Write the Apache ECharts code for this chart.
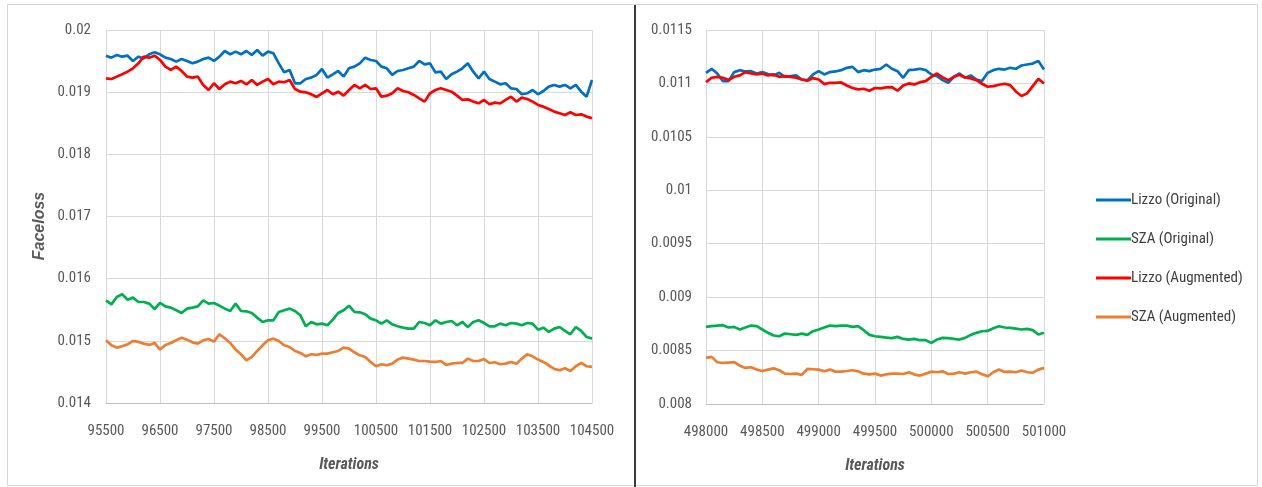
<!DOCTYPE html>
<html>
<head>
<meta charset="utf-8">
<script src="https://cdn.jsdelivr.net/npm/echarts@6/dist/echarts.min.js"></script>
<style>
  html, body { margin: 0; padding: 0; background: #ffffff; }
  #chart { width: 1262px; height: 487px; }
</style>
</head>
<body>
<div id="chart"></div>
<script>
// Iteration steps for the two training windows
const leftIters = [];
for (let i = 0; i <= 90; i++) leftIters.push(95500 + 100 * i);
const rightIters = [];
for (let i = 0; i <= 60; i++) rightIters.push(498000 + 50 * i);

const seriesNames = ['Lizzo (Original)', 'SZA (Original)', 'Lizzo (Augmented)', 'SZA (Augmented)'];

// Face loss, early window (95500 - 104500)
const lizzoOrigLeft = [
  0.019587, 0.019555, 0.019598, 0.019571, 0.019587, 0.019502, 0.019571, 0.019544, 0.019609, 0.019641,
  0.019609, 0.019555, 0.019534, 0.019491, 0.019534, 0.019502, 0.019464, 0.019491, 0.019534, 0.019555,
  0.019502, 0.019571, 0.019662, 0.019609, 0.019652, 0.019609, 0.019662, 0.019598, 0.019678, 0.019587,
  0.019652, 0.019625, 0.019464, 0.019319, 0.019357, 0.019143, 0.019143, 0.019212, 0.019234, 0.019277,
  0.019373, 0.019234, 0.019287, 0.019341, 0.019250, 0.019384, 0.019411, 0.019464, 0.019555, 0.019518,
  0.019502, 0.019411, 0.019384, 0.019277, 0.019341, 0.019357, 0.019384, 0.019411, 0.019502, 0.019448,
  0.019464, 0.019319, 0.019330, 0.019212, 0.019287, 0.019330, 0.019384, 0.019464, 0.019330, 0.019223,
  0.019330, 0.019212, 0.019169, 0.019126, 0.019143, 0.019062, 0.019051, 0.018966, 0.018982, 0.019035,
  0.018966, 0.019019, 0.019089, 0.019116, 0.019089, 0.019116, 0.019062, 0.019116, 0.019008, 0.018928,
  0.019196
];
const szaOrigLeft = [
  0.015652, 0.015587, 0.015705, 0.015748, 0.015662, 0.015695, 0.015625, 0.015625, 0.015598, 0.015512,
  0.015609, 0.015555, 0.015534, 0.015491, 0.015448, 0.015518, 0.015534, 0.015555, 0.015652, 0.015598,
  0.015609, 0.015566, 0.015518, 0.015480, 0.015598, 0.015480, 0.015475, 0.015448, 0.015373, 0.015303,
  0.015330, 0.015330, 0.015464, 0.015491, 0.015518, 0.015480, 0.015411, 0.015234, 0.015303, 0.015266,
  0.015277, 0.015250, 0.015341, 0.015448, 0.015491, 0.015566, 0.015464, 0.015459, 0.015427, 0.015357,
  0.015330, 0.015277, 0.015330, 0.015266, 0.015234, 0.015212, 0.015196, 0.015196, 0.015303, 0.015287,
  0.015250, 0.015330, 0.015277, 0.015303, 0.015319, 0.015250, 0.015303, 0.015223, 0.015303, 0.015330,
  0.015287, 0.015234, 0.015234, 0.015277, 0.015250, 0.015287, 0.015277, 0.015250, 0.015287, 0.015277,
  0.015180, 0.015212, 0.015143, 0.015196, 0.015223, 0.015159, 0.015105, 0.015223, 0.015159, 0.015062,
  0.015035
];
const lizzoAugLeft = [
  0.019223, 0.019212, 0.019250, 0.019287, 0.019330, 0.019384, 0.019464, 0.019571, 0.019555, 0.019587,
  0.019518, 0.019411, 0.019357, 0.019411, 0.019341, 0.019250, 0.019234, 0.019250, 0.019116, 0.019035,
  0.019143, 0.019051, 0.019126, 0.019169, 0.019143, 0.019180, 0.019126, 0.019196, 0.019116, 0.019169,
  0.019212, 0.019126, 0.019169, 0.019159, 0.019196, 0.019051, 0.019008, 0.018998, 0.018966, 0.018923,
  0.018982, 0.019035, 0.018966, 0.019008, 0.018944, 0.019035, 0.019116, 0.019062, 0.019116, 0.019051,
  0.019062, 0.018928, 0.018944, 0.018982, 0.019062, 0.019019, 0.018998, 0.018955, 0.018901, 0.018848,
  0.018982, 0.019035, 0.019062, 0.019035, 0.019008, 0.018944, 0.018875, 0.018885, 0.018848, 0.018821,
  0.018875, 0.018805, 0.018832, 0.018821, 0.018875, 0.018928, 0.018848, 0.018912, 0.018891, 0.018848,
  0.018794, 0.018767, 0.018730, 0.018687, 0.018660, 0.018633, 0.018676, 0.018633, 0.018644, 0.018607,
  0.018580
];
const szaAugLeft = [
  0.015009, 0.014928, 0.014891, 0.014912, 0.014944, 0.014998, 0.014982, 0.014955, 0.014934, 0.014966,
  0.014859, 0.014934, 0.014966, 0.015009, 0.015051, 0.015019, 0.014976, 0.014955, 0.015009, 0.015030,
  0.014987, 0.015105, 0.015041, 0.014966, 0.014859, 0.014784, 0.014687, 0.014741, 0.014837, 0.014928,
  0.015009, 0.015035, 0.014998, 0.014928, 0.014901, 0.014837, 0.014805, 0.014751, 0.014784, 0.014773,
  0.014794, 0.014794, 0.014816, 0.014837, 0.014891, 0.014875, 0.014816, 0.014767, 0.014741, 0.014660,
  0.014591, 0.014623, 0.014607, 0.014633, 0.014698, 0.014730, 0.014714, 0.014698, 0.014676, 0.014676,
  0.014666, 0.014660, 0.014676, 0.014612, 0.014633, 0.014644, 0.014644, 0.014714, 0.014676, 0.014676,
  0.014708, 0.014644, 0.014655, 0.014623, 0.014633, 0.014660, 0.014633, 0.014714, 0.014784, 0.014751,
  0.014698, 0.014660, 0.014607, 0.014548, 0.014526, 0.014558, 0.014516, 0.014591, 0.014644, 0.014591,
  0.014580
];

// Face loss, late window (498000 - 501000)
const lizzoOrigRight = [
  0.011099, 0.011137, 0.011093, 0.011022, 0.011022, 0.011106, 0.011124, 0.011112, 0.011115, 0.011093,
  0.011106, 0.011087, 0.011075, 0.011099, 0.011062, 0.011068, 0.011075, 0.011037, 0.011031, 0.011084,
  0.011115, 0.011084, 0.011106, 0.011112, 0.011124, 0.011146, 0.011155, 0.011106, 0.011124, 0.011115,
  0.011130, 0.011137, 0.011177, 0.011137, 0.011115, 0.011053, 0.011124, 0.011130, 0.011137, 0.011124,
  0.011084, 0.011068, 0.011031, 0.011006, 0.011062, 0.011093, 0.011053, 0.011075, 0.011037, 0.011022,
  0.011099, 0.011124, 0.011137, 0.011130, 0.011146, 0.011137, 0.011168, 0.011177, 0.011186, 0.011211,
  0.011130
];
const szaOrigRight = [
  0.008722, 0.008728, 0.008734, 0.008738, 0.008716, 0.008722, 0.008697, 0.008716, 0.008734, 0.008728,
  0.008697, 0.008666, 0.008641, 0.008634, 0.008659, 0.008653, 0.008647, 0.008659, 0.008647, 0.008681,
  0.008697, 0.008716, 0.008734, 0.008728, 0.008734, 0.008734, 0.008722, 0.008728, 0.008691, 0.008647,
  0.008634, 0.008628, 0.008622, 0.008616, 0.008628, 0.008609, 0.008603, 0.008609, 0.008597, 0.008597,
  0.008572, 0.008603, 0.008619, 0.008616, 0.008609, 0.008603, 0.008619, 0.008647, 0.008666, 0.008681,
  0.008684, 0.008709, 0.008728, 0.008716, 0.008712, 0.008706, 0.008697, 0.008703, 0.008691, 0.008650,
  0.008666
];
const lizzoAugRight = [
  0.011012, 0.011053, 0.011062, 0.011053, 0.011031, 0.011062, 0.011075, 0.011106, 0.011093, 0.011084,
  0.011093, 0.011075, 0.011084, 0.011062, 0.011068, 0.011062, 0.011053, 0.011037, 0.011025, 0.011050,
  0.011037, 0.010994, 0.011006, 0.011006, 0.011009, 0.010981, 0.010957, 0.010944, 0.010950, 0.010932,
  0.010957, 0.010953, 0.010963, 0.010966, 0.010932, 0.010981, 0.011000, 0.010991, 0.011012, 0.011022,
  0.011062, 0.011093, 0.011056, 0.011031, 0.011062, 0.011081, 0.011056, 0.011047, 0.011031, 0.010997,
  0.010969, 0.010975, 0.010988, 0.010997, 0.010984, 0.010925, 0.010882, 0.010907, 0.010975, 0.011043,
  0.011000
];
const szaAugRight = [
  0.008431, 0.008441, 0.008391, 0.008384, 0.008388, 0.008391, 0.008359, 0.008338, 0.008344, 0.008322,
  0.008309, 0.008322, 0.008334, 0.008316, 0.008284, 0.008281, 0.008284, 0.008272, 0.008328, 0.008325,
  0.008322, 0.008306, 0.008322, 0.008303, 0.008303, 0.008309, 0.008316, 0.008306, 0.008284, 0.008278,
  0.008284, 0.008266, 0.008278, 0.008284, 0.008284, 0.008281, 0.008297, 0.008275, 0.008266, 0.008284,
  0.008303, 0.008297, 0.008306, 0.008281, 0.008284, 0.008297, 0.008284, 0.008297, 0.008303, 0.008278,
  0.008259, 0.008297, 0.008322, 0.008300, 0.008303, 0.008297, 0.008313, 0.008297, 0.008294, 0.008322,
  0.008338
];

const colors = ['#0070C0', '#00B050', '#FF0000', '#ED7D31'];
const FONT = "'Liberation Sans Narrow', 'Roboto Condensed', 'Liberation Sans', sans-serif";
const labelColor = '#595959';
const gridColor = '#d9d9d9';

function fmt(v) { return String(+v.toFixed(5)); }

function xAxisCfg(gridIndex, cats) {
  return {
    type: 'category', gridIndex: gridIndex, data: cats, boundaryGap: false,
    axisLine: { show: true, lineStyle: { color: '#bfbfbf', width: 1 } },
    axisTick: { show: false },
    axisLabel: { interval: 9, color: labelColor, fontSize: 15, fontFamily: FONT, margin: 21 },
    splitLine: { show: true, interval: 9, lineStyle: { color: gridColor, width: 1 } },
    name: 'Iterations', nameLocation: 'middle', nameGap: 54,
    nameTextStyle: { fontStyle: 'italic', fontWeight: 'bold', fontSize: 16, color: labelColor, fontFamily: FONT }
  };
}
function yAxisCfg(gridIndex, min, max, step, margin) {
  return {
    type: 'value', gridIndex: gridIndex, min: min, max: max, interval: step,
    axisLine: { show: false }, axisTick: { show: false },
    axisLabel: { color: labelColor, fontSize: 15, fontFamily: FONT, margin: margin, formatter: fmt },
    splitLine: { show: true, lineStyle: { color: gridColor, width: 1 } }
  };
}

const leftSets = [lizzoOrigLeft, szaOrigLeft, lizzoAugLeft, szaAugLeft];
const rightSets = [lizzoOrigRight, szaOrigRight, lizzoAugRight, szaAugRight];
const series = [];
leftSets.forEach((d, i) => series.push({
  name: seriesNames[i], type: 'line', xAxisIndex: 0, yAxisIndex: 0, data: d,
  showSymbol: false, symbol: 'none', color: colors[i], lineStyle: { width: 2.7, color: colors[i] }
}));
rightSets.forEach((d, i) => series.push({
  name: seriesNames[i], type: 'line', xAxisIndex: 1, yAxisIndex: 1, data: d,
  showSymbol: false, symbol: 'none', color: colors[i], lineStyle: { width: 2.7, color: colors[i] }
}));

const chart = echarts.init(document.getElementById('chart'), null, { renderer: 'canvas' });
chart.setOption({
  animation: false,
  backgroundColor: '#ffffff',
  grid: [
    { left: 106, right: 670, top: 30, bottom: 84 },
    { left: 706, right: 218, top: 30, bottom: 83 }
  ],
  xAxis: [xAxisCfg(0, leftIters), xAxisCfg(1, rightIters)],
  yAxis: [yAxisCfg(0, 0.014, 0.02, 0.001, 15), yAxisCfg(1, 0.008, 0.0115, 0.0005, 14)],
  legend: {
    orient: 'vertical', left: 1091, top: 186,
    icon: 'rect', itemWidth: 35, itemHeight: 3, itemGap: 21,
    data: seriesNames,
    textStyle: { fontSize: 15, color: '#404040', fontFamily: FONT, lineHeight: 18, padding: [0, 0, 0, -5] }
  },
  graphic: [
    { type: 'rect', shape: { x: 7.5, y: 4.5, width: 1250, height: 481 },
      style: { fill: 'none', stroke: '#d6d6d6', lineWidth: 1 }, silent: true },
    { type: 'line', shape: { x1: 635, y1: 5, x2: 635, y2: 487 },
      style: { stroke: '#3a3a3a', lineWidth: 2 }, silent: true },
    { type: 'text', x: 40, y: 226, rotation: Math.PI / 2,
      style: { text: 'Faceloss', fill: labelColor, font: "italic bold 16px 'Liberation Sans Narrow', 'Liberation Sans', sans-serif",
               align: 'center', verticalAlign: 'middle' }, silent: true }
  ],
  series: series
});
</script>
</body>
</html>
